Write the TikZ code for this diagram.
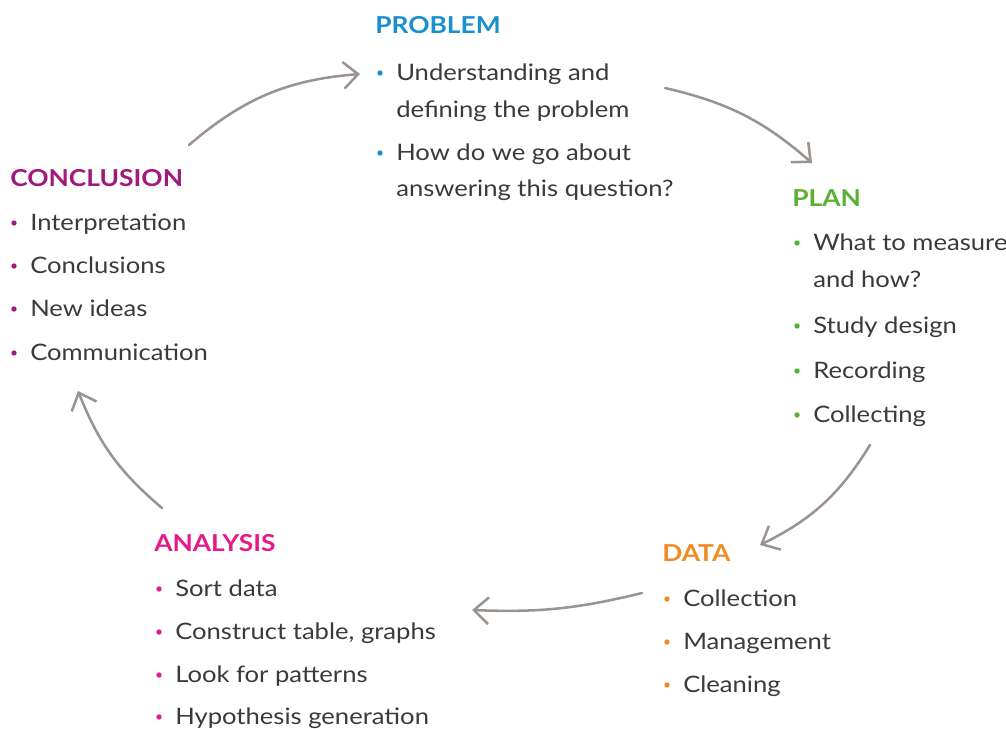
\documentclass[tikz,border=0pt]{standalone}
\usepackage{fontspec}
\setmainfont{Lato}[FakeStretch=1.13]
\usetikzlibrary{arrows.meta}
\definecolor{probblue}{HTML}{1A8FCE}
\definecolor{planGreen}{HTML}{5BB033}
\definecolor{dataOrange}{HTML}{F08A24}
\definecolor{anaPink}{HTML}{E6198A}
\definecolor{conPurple}{HTML}{A01A7D}
\definecolor{textgray}{HTML}{3A3A3A}
\definecolor{arrowgray}{HTML}{9B938F}

\begin{document}
\begin{tikzpicture}[x=0.75pt, y=-0.75pt,
    head/.style={anchor=base west, inner sep=0pt, font=\fontsize{17.5}{20}\selectfont\bfseries},
    txt/.style={anchor=base west, inner sep=0pt, text=textgray, font=\fontsize{17}{20}\selectfont},
    cyc/.style={draw=arrowgray, line width=1.9pt, line cap=round,
        -{Straight Barb[length=11pt, width=20pt, line width=1.9pt]}}]
    \useasboundingbox (0,0) rectangle (1006,728);
    % Problem
    \node[head, text=probblue] (probHead) at (375,33) {PROBLEM};
    \fill[probblue] (380,73) circle (2.7);
    \node[txt] (prob1) at (396,80) {Understanding and};
    \node[txt] (prob1b) at (396,117) {defining the problem};
    \fill[probblue] (380,153) circle (2.7);
    \node[txt] (prob2) at (396,160) {How do we go about};
    \node[txt] (prob2b) at (396,196) {answering this question?};
    % Plan
    \node[head, text=planGreen] (planHead) at (792,206) {PLAN};
    \fill[planGreen] (797,243) circle (2.7);
    \node[txt] (plan1) at (813,250) {What to measure};
    \node[txt] (plan1b) at (813,287) {and how?};
    \fill[planGreen] (797,326) circle (2.7);
    \node[txt] (plan2) at (813,333) {Study design};
    \fill[planGreen] (797,371) circle (2.7);
    \node[txt] (plan3) at (813,378) {Recording};
    \fill[planGreen] (797,415) circle (2.7);
    \node[txt] (plan4) at (813,422) {Collecting};
    % Data
    \node[head, text=dataOrange] (dataHead) at (662,561) {DATA};
    \fill[dataOrange] (667,599) circle (2.7);
    \node[txt] (data1) at (683,606) {Collection};
    \fill[dataOrange] (667,642) circle (2.7);
    \node[txt] (data2) at (683,649) {Management};
    \fill[dataOrange] (667,685) circle (2.7);
    \node[txt] (data3) at (683,692) {Cleaning};
    % Analysis
    \node[head, text=anaPink] (anaHead) at (154,551) {ANALYSIS};
    \fill[anaPink] (159,589) circle (2.7);
    \node[txt] (ana1) at (175,596) {Sort data};
    \fill[anaPink] (159,632) circle (2.7);
    \node[txt] (ana2) at (175,639) {Construct table, graphs};
    \fill[anaPink] (159,675) circle (2.7);
    \node[txt] (ana3) at (175,682) {Look for patterns};
    \fill[anaPink] (159,717) circle (2.7);
    \node[txt] (ana4) at (175,724) {Hypothesis generation};
    % Conclusion
    \node[head, text=conPurple] (conHead) at (10,186) {CONCLUSION};
    \fill[conPurple] (14,223) circle (2.7);
    \node[txt] (con1) at (30,230) {Interpretation};
    \fill[conPurple] (14,266) circle (2.7);
    \node[txt] (con2) at (30,273) {Conclusions};
    \fill[conPurple] (14,309) circle (2.7);
    \node[txt] (con3) at (30,316) {New ideas};
    \fill[conPurple] (14,353) circle (2.7);
    \node[txt] (con4) at (30,360) {Communication};
    % Arrow ends
    \coordinate (conOut) at (189,145);
    \coordinate (probIn) at (360,74);
    \coordinate (probOut) at (665,88);
    \coordinate (planIn) at (812,163);
    \coordinate (planOut) at (870,445);
    \coordinate (dataIn) at (760,545);
    \coordinate (dataOut) at (642,593);
    \coordinate (anaIn) at (472,610);
    \coordinate (anaOut) at (162,508);
    \coordinate (conIn) at (78,391);
    % Cycle arrows
    \draw[cyc] (conOut) to[bend left=18] (probIn);
    \draw[cyc] (probOut) to[bend left=14] (planIn);
    \draw[cyc] (planOut) to[bend left=16] (dataIn);
    \draw[cyc] (dataOut) to[bend left=8] (anaIn);
    \draw[cyc] (anaOut) to[bend left=14] (conIn);
\end{tikzpicture}
\end{document}
